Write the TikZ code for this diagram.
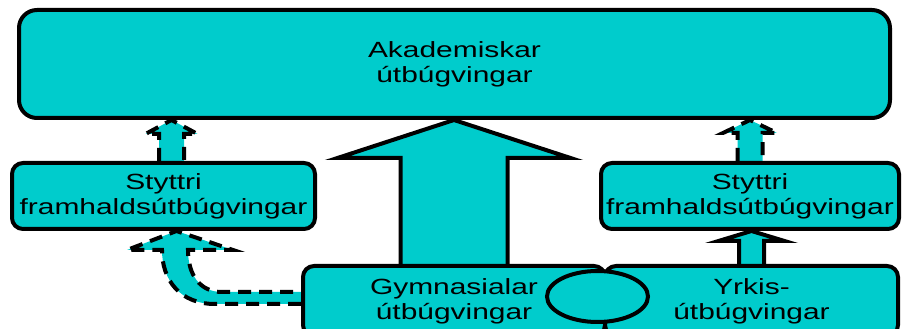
\documentclass[tikz,border=0pt]{standalone}
\usepackage{fontspec}
\setmainfont{Liberation Sans}
\usepackage{graphicx}
\usetikzlibrary{calc,shapes.geometric}
\pgfdeclarelayer{background}
\pgfsetlayers{background,main}
\definecolor{tq}{RGB}{0,204,204}
\newcommand{\wl}[1]{\scalebox{1.36}[1]{#1}}
\begin{document}
\begin{tikzpicture}[x=1pt,y=1pt,
  box/.style={draw=black, line width=4pt, fill=tq, rounded corners=11pt, inner sep=0pt,
    align=center, font=\fontsize{22}{25}\selectfont},
  blk/.style={draw=black, line width=4pt, fill=tq, line join=miter},
  dsh/.style={blk, dash pattern=on 13pt off 8pt}]
\useasboundingbox (0,0) rectangle (902,329);
\clip (0,0) rectangle (902,329);
% boxes
\node[box, rounded corners=18pt, minimum width=871pt, minimum height=108pt] (aka) at (454.5,265)
  {\wl{Akademiskar}\\\wl{útbúgvingar}};
\node[box, minimum width=303pt, minimum height=66pt] (s1) at (163.5,133)
  {\wl{Styttri}\\\wl{framhaldsútbúgvingar}};
\node[box, minimum width=298pt, minimum height=66pt] (s2) at (750,133)
  {\wl{Styttri}\\\wl{framhaldsútbúgvingar}};
\node[box, minimum width=302pt, minimum height=70pt] (gym) at (454,28)
  {\wl{Gymnasialar}\\\wl{útbúgvingar}};
\node[box, minimum width=293pt, minimum height=70pt] (yrk) at (751.5,28)
  {\wl{Yrkis-}\\\wl{útbúgvingar}};
\node[draw=black, line width=4pt, fill=tq, ellipse, minimum width=101pt, minimum height=51pt, inner sep=0pt] (ov) at (597.5,32.5) {};
% connectors
\begin{pgfonlayer}{background}
  % big arrow
  \coordinate (bt) at (aka.south -| gym.north);
  \draw[blk] ($(gym.north)+(-53.5,0)$) -- ($(bt)+(-53.5,-38)$) -- ($(bt)+(-116.5,-38)$) -- (bt)
    -- ($(bt)+(116.5,-38)$) -- ($(bt)+(53.5,-38)$) -- ($(gym.north)+(53.5,0)$);
  % left dashed
  \coordinate (lb) at ($(s1.north)+(8,0)$);
  \coordinate (lt) at (aka.south -| lb);
  \draw[dsh] ($(lb)+(-12.5,0)$) -- ($(lt)+(-12.5,-14)$) -- ($(lt)+(-26,-14)$) -- (lt)
    -- ($(lt)+(26,-14)$) -- ($(lt)+(12.5,-14)$) -- ($(lb)+(12.5,0)$);
  % right dashed
  \coordinate (rt) at (aka.south -| s2.north);
  \draw[dsh] ($(s2.north)+(-12.5,0)$) -- ($(rt)+(-12.5,-13)$) -- ($(rt)+(-27,-13)$) -- (rt)
    -- ($(rt)+(27,-13)$) -- ($(rt)+(12.5,-13)$) -- ($(s2.north)+(12.5,0)$);
  % right solid
  \coordinate (st) at (s2.south -| yrk.north);
  \draw[blk] ($(yrk.north)+(-12.5,0)$) -- ($(st)+(-12.5,-10)$) -- ($(st)+(-33,-10)$) -- (st)
    -- ($(st)+(33,-10)$) -- ($(st)+(12.5,-10)$) -- ($(yrk.north)+(12.5,0)$);
  % curved dashed
  \coordinate (ct) at ($(s1.south)+(13,0)$);
  \draw[dsh] ($(gym.west)+(0,-3)$) -- (215,25) .. controls (180,25) and (162,49) .. (162,79)
    -- (127,79) -- (ct) -- (233,79) -- (188,79) .. controls (188,54) and (200,37) .. (222,37)
    -- ($(gym.west)+(0,9)$);
\end{pgfonlayer}
\end{tikzpicture}
\end{document}
